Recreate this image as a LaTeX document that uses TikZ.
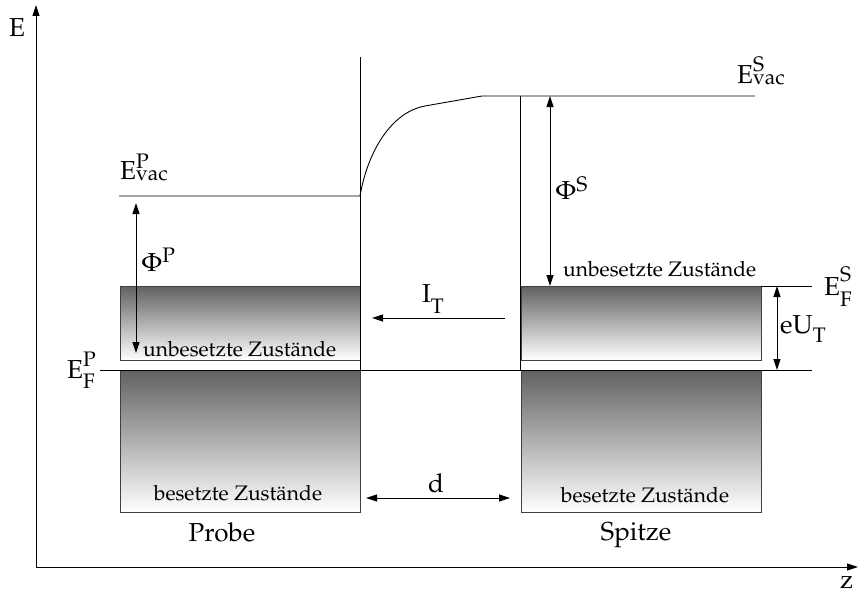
\documentclass[tikz,border=0pt]{standalone}
\usepackage[T1]{fontenc}
\usepackage{mathpazo}
\usetikzlibrary{arrows.meta}
\newcommand{\scr}[1]{{\fontsize{21}{22}\selectfont #1}}
\newcommand{\SupSub}[4]{%
  \setbox0\hbox{\raisebox{#3}{\scr{#1}}}%
  \setbox2\hbox{\raisebox{-#4}{\scr{#2}}}%
  \ifdim\wd0>\wd2 \rlap{\box2}\box0 \else \rlap{\box0}\box2 \fi}
\newcommand{\Up}[2]{\raisebox{#2}{\scr{#1}}}
\newcommand{\Dn}[2]{\raisebox{-#2}{\scr{#1}}}
\begin{document}
\begin{tikzpicture}[x=1pt,y=-1pt,
  lw/.style={line width=0.9pt},
  tipA/.style={-{Triangle[length=11pt,width=7pt]}},
  dtip/.style={{Triangle[length=11pt,width=7pt]}-{Triangle[length=11pt,width=7pt]}},
  band/.style={draw=black!75,line width=1pt,top color=black!62,bottom color=white},
  big/.style={font=\fontsize{26}{30}\selectfont, inner sep=0pt},
  small/.style={font=\fontsize{21}{24}\selectfont, inner sep=0pt}]
\useasboundingbox (0,0) rectangle (859,594);
% bands
\path[band] (120,286) rectangle (360,360);
\path[band] (120,370) rectangle (360,512);
\path[band] (521,286) rectangle (761,360);
\path[band] (521,370) rectangle (761,512);
% axes
\coordinate (O) at (36,567);
\coordinate (Etop) at (36,5);
\coordinate (Zend) at (858,567);
\draw[lw,tipA] (O) -- (Etop);
\draw[lw,tipA] (O) -- (Zend);
\node[big,anchor=base west] (Elab) at (9,37) {E};
\node[big,anchor=base west] (zlab) at (840,588) {z};
% vertical surfaces
\coordinate (ps1) at (360,57); \coordinate (ps2) at (360,370);
\coordinate (ts1) at (520,96); \coordinate (ts2) at (520,370);
\draw[lw] (ps1) -- (ps2);
\draw[lw] (ts1) -- (ts2);
% levels
\coordinate (fp1) at (100,370); \coordinate (fp2) at (812,370);
\draw[lw] (fp1) -- (fp2);
\coordinate (vp1) at (119,196); \coordinate (vp2) at (360,196);
\draw[lw] (vp1) -- (vp2) .. controls (368,150) and (392,112) .. (425,106) -- (482,96) -- (755,96);
\coordinate (fs1) at (761,286); \coordinate (fs2) at (812,286);
\draw[lw] (fs1) -- (fs2);
% arrows
\coordinate (phiP1) at (136,203); \coordinate (phiP2) at (136,353);
\draw[line width=0.8pt,dtip] (phiP1) -- (phiP2);
\coordinate (phiS1) at (550,96); \coordinate (phiS2) at (550,286);
\draw[line width=0.8pt,dtip] (phiS1) -- (phiS2);
\coordinate (eu1) at (777,286); \coordinate (eu2) at (777,370);
\draw[line width=0.8pt,dtip] (eu1) -- (eu2);
\coordinate (it1) at (505,318); \coordinate (it2) at (372,318);
\draw[line width=0.8pt,tipA] (it1) -- (it2);
\coordinate (d1) at (366,498); \coordinate (d2) at (510,498);
\draw[line width=0.8pt,dtip] (d1) -- (d2);
% labels
\node[big,anchor=base west] (EvP) at (120,179) {E\SupSub{P}{vac}{11pt}{1pt}};
\node[big,anchor=base west] (EvS) at (737,84) {E\SupSub{S}{vac}{13pt}{1pt}};
\node[big,anchor=base west] (EfP) at (67,378) {E\SupSub{P}{F}{12pt}{10pt}};
\node[big,anchor=base west] (EfS) at (824,295) {E\SupSub{S}{F}{14pt}{11pt}};
\node[big,anchor=base west] (PhiP) at (141,271) {$\Phi$\Up{P}{9pt}};
\node[big,anchor=base west] (PhiS) at (555,199) {$\Phi$\Up{S}{8pt}};
\node[big,anchor=base west] (IT) at (422,302) {I\Dn{T}{11pt}};
\node[big,anchor=base west] (eUT) at (780,333) {eU\Dn{T}{9pt}};
\node[big,anchor=base west] (dlab) at (428,492) {d};
\node[small,anchor=base west] (uzP) at (143,356) {unbesetzte Zust\"ande};
\node[small,anchor=base west] (uzS) at (563,276) {unbesetzte Zust\"ande};
\node[small,anchor=base] (bzP) at (238,500) {besetzte Zust\"ande};
\node[small,anchor=base] (bzS) at (645,502) {besetzte Zust\"ande};
\node[big,anchor=base] (probe) at (222,541) {Probe};
\node[big,anchor=base] (spitze) at (636,540) {Spitze};
\end{tikzpicture}
\end{document}
